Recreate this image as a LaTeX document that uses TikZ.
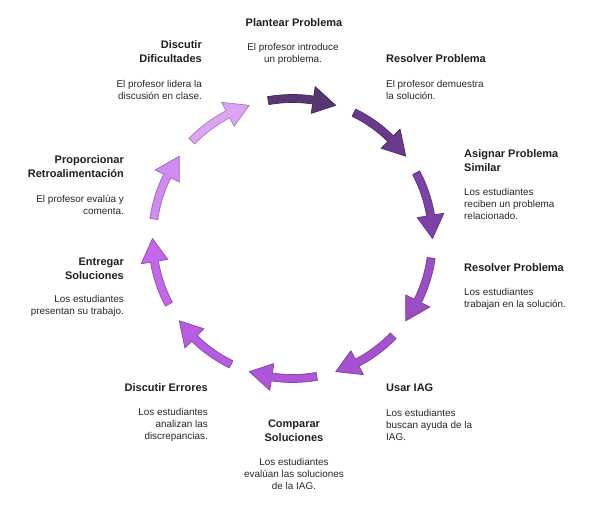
\documentclass[tikz,border=0pt]{standalone}
\usepackage{fontspec}
\setmainfont{Liberation Sans}
\begin{document}
\begin{tikzpicture}[x=1pt,y=1pt,
  title/.style={font=\fontsize{11}{14}\selectfont\bfseries, inner sep=0pt, text=black!88},
  desc/.style={font=\fontsize{9.9}{12}\selectfont, inner sep=0pt, text=black!85},
  arr/.style={line width=0.7pt, line join=round}]
\useasboundingbox (0,0) rectangle (590,507);
\definecolor{ca}{HTML}{573672}
\definecolor{cb}{HTML}{6A3B8C}
\definecolor{cc}{HTML}{7D41A7}
\definecolor{cd}{HTML}{9A4FC2}
\definecolor{ce}{HTML}{A552D0}
\definecolor{cf}{HTML}{AE55D9}
\definecolor{cg}{HTML}{B75DE2}
\definecolor{ch}{HTML}{C367EB}
\definecolor{ci}{HTML}{D08BF1}
\definecolor{cj}{HTML}{DCA5F4}
\def\R{140}\def\Ra{144}\def\Rb{136}\def\Rc{153.5}\def\Rd{126.5}
\begin{scope}[shift={(292.5,268.5)}]
\foreach \t/\c [count=\k] in {100/ca,64/cb,28/cc,-8/cd,-44/ce,-80/cf,-116/cg,-152/ch,-188/ci,-224/cj}{
  \pgfmathsetmacro{\b}{\t-28}
  \pgfmathsetmacro{\n}{\t-28+9.5}
  \filldraw[arr, fill=\c, draw=\c!75!black]
    (\t:\Ra) arc[start angle=\t, end angle=\n, radius=\Ra]
    -- (\n:\Rc) -- (\b:\R) -- (\n:\Rd) -- (\n:\Rb)
    arc[start angle=\n, end angle=\t, radius=\Rb] -- cycle;
}
\end{scope}
\node[title, align=center] (t1) at (294,484) {Plantear Problema};
\node[desc, align=center] (d1) at (293,453) {El profesor introduce\\un problema.};
\node[title, anchor=west] (t2) at (386,448) {Resolver Problema};
\node[desc, align=left, anchor=west] (d2) at (386,417) {El profesor demuestra\\la solución.};
\node[title, align=left, anchor=west] (t3) at (464,346.5) {Asignar Problema\\Similar};
\node[desc, align=left, anchor=west] (d3) at (464,303) {Los estudiantes\\reciben un problema\\relacionado.};
\node[title, anchor=west] (t4) at (464,239) {Resolver Problema};
\node[desc, align=left, anchor=west] (d4) at (464,208) {Los estudiantes\\trabajan en la solución.};
\node[title, anchor=west] (t5) at (386,119) {Usar IAG};
\node[desc, align=left, anchor=west] (d5) at (386,82) {Los estudiantes\\buscan ayuda de la\\IAG.};
\node[title, align=center] (t6) at (294,76) {Comparar\\Soluciones};
\node[desc, align=center] (d6) at (294,33.5) {Los estudiantes\\evalúan las soluciones\\de la IAG.};
\node[title, anchor=east] (t7) at (208,119) {Discutir Errores};
\node[desc, align=right, anchor=east] (d7) at (208,82) {Los estudiantes\\analizan las\\discrepancias.};
\node[title, align=right, anchor=east] (t8) at (124,238) {Entregar\\Soluciones};
\node[desc, align=right, anchor=east] (d8) at (124,201) {Los estudiantes\\presentan su trabajo.};
\node[title, align=right, anchor=east] (t9) at (124,340.5) {Proporcionar\\Retroalimentación};
\node[desc, align=right, anchor=east] (d9) at (124,302.5) {El profesor evalúa y\\comenta.};
\node[title, align=right, anchor=east] (t10) at (202,455) {Discutir\\Dificultades};
\node[desc, align=right, anchor=east] (d10) at (202,417.5) {El profesor lidera la\\discusión en clase.};
\end{tikzpicture}
\end{document}
